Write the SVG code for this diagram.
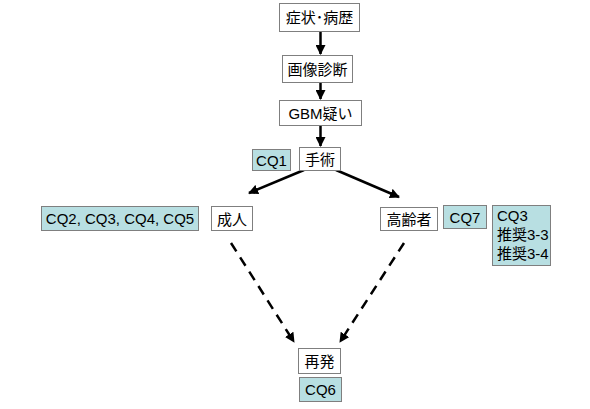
<svg xmlns="http://www.w3.org/2000/svg" width="590" height="409" viewBox="0 0 590 409">
<style>
.b{fill:#ffffff;stroke:#7f7f7f;stroke-width:1}
.c{fill:#b8dfe2;stroke:#7f7f7f;stroke-width:1}
text{font-family:"Liberation Sans","Noto Sans CJK JP",sans-serif;font-size:15px;fill:#000}
.m{text-anchor:middle}
.s{stroke:#000;stroke-width:2.5;fill:none}
.d{stroke:#000;stroke-width:2.5;fill:none;stroke-dasharray:10,7}
</style>
<defs>
<marker id="ah" viewBox="0 0 10 10" refX="9" refY="5" markerWidth="4" markerHeight="4" orient="auto" markerUnits="strokeWidth">
<path d="M0,0 L10,5 L0,10 z" fill="#000"/>
</marker>
</defs>
<rect width="590" height="409" fill="#fff"/>
<g id="connectors">
<line class="s" x1="320.5" y1="32" x2="320.5" y2="54" marker-end="url(#ah)"/>
<line class="s" x1="320.5" y1="82" x2="320.5" y2="99" marker-end="url(#ah)"/>
<line class="s" x1="320.5" y1="125" x2="320.5" y2="146" marker-end="url(#ah)"/>
<line class="s" x1="304" y1="170" x2="249" y2="193" marker-end="url(#ah)"/>
<line class="s" x1="336" y1="170" x2="399" y2="197" marker-end="url(#ah)"/>
<line class="d" x1="231" y1="243" x2="294" y2="342" marker-end="url(#ah)"/>
<line class="d" x1="404" y1="243" x2="340" y2="342" marker-end="url(#ah)"/>
</g>
<g id="n1"><rect class="b" x="279.5" y="3.5" width="80" height="28"/><text class="m" x="319.5" y="23">症状･病歴</text></g>
<g id="n2"><rect class="b" x="282.5" y="55.5" width="70" height="27"/><text class="m" x="317.5" y="74.5">画像診断</text></g>
<g id="n3"><rect class="b" x="279.5" y="100.5" width="82" height="25"/><text class="m" x="320.5" y="118.5">GBM疑い</text></g>
<g id="n4"><rect class="b" x="299.5" y="147.5" width="41" height="23"/><text class="m" x="320" y="164.5">手術</text></g>
<g id="cq1"><rect class="c" x="252.5" y="149.5" width="38" height="21"/><text class="m" x="271.5" y="165.5">CQ1</text></g>
<g id="n5"><rect class="b" x="211.5" y="206.5" width="41" height="24"/><text class="m" x="232" y="224.5">成人</text></g>
<g id="cq2"><rect class="c" x="41.5" y="206.5" width="157" height="24"/><text class="m" x="120" y="224">CQ2, CQ3, CQ4, CQ5</text></g>
<g id="n6"><rect class="b" x="380.5" y="207.5" width="57" height="23"/><text class="m" x="409" y="224.5">高齢者</text></g>
<g id="cq7"><rect class="c" x="443.5" y="205.5" width="43" height="23"/><text class="m" x="465" y="222.5">CQ7</text></g>
<g id="cq3"><rect class="c" x="492.5" y="205.5" width="58" height="60"/><text x="497" y="220.5">CQ3</text><text x="497" y="239.5">推奨3-3</text><text x="497" y="258.5">推奨3-4</text></g>
<g id="n7"><rect class="b" x="298.5" y="348.5" width="42" height="25"/><text class="m" x="319.5" y="366.5">再発</text></g>
<g id="cq6"><rect class="c" x="299.5" y="377.5" width="42" height="24"/><text class="m" x="320.5" y="395">CQ6</text></g>
</svg>
